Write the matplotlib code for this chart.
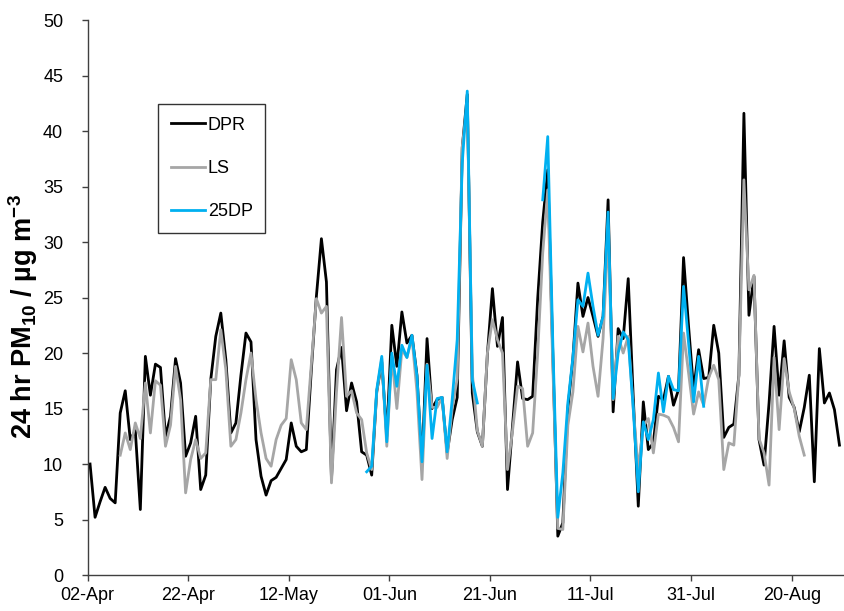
# PM10 time series: DPR / LS / 25DP
import numpy as np
import matplotlib
matplotlib.use("Agg")
import matplotlib.pyplot as plt

plt.rcParams["font.family"] = ["Liberation Sans", "DejaVu Sans"]
plt.rcParams["mathtext.fontset"] = "custom"
plt.rcParams["mathtext.rm"] = "Liberation Sans"
plt.rcParams["mathtext.bf"] = "Liberation Sans:bold"
tick_size = 13

# 数据 (日均值, 从 02-Apr 起每天一个)
dpr = [10.0, 5.2, 6.6, 7.9, 6.9, 6.5, 14.6, 16.6, 12.2, 13.0,
       5.9, 19.7, 16.2, 19.0, 18.7, 12.5, 14.3, 19.5, 17.3, 10.7,
       11.9, 14.3, 7.7, 9.0, 17.6, 21.5, 23.6, 19.4, 12.8, 13.7,
       18.0, 21.8, 21.0, 12.2, 8.9, 7.2, 8.5, 8.8, 9.6, 10.4,
       13.7, 11.6, 11.1, 11.3, 18.5, 25.1, 30.3, 26.4, 8.6, 18.5,
       20.5, 14.8, 17.3, 15.6, 11.1, 10.8, 9.0, 16.5, 19.2, 12.5,
       22.5, 18.8, 23.7, 20.9, 21.6, 18.0, 10.0, 21.3, 15.0, 15.8,
       16.0, 11.0, 14.0, 16.0, 38.5, 43.3, 16.4, 12.9, 11.6, 19.9,
       25.8, 20.6, 23.2, 7.7, 13.4, 19.2, 15.9, 15.8, 16.1, 24.9,
       31.8, 36.5, 20.0, 3.5, 4.7, 15.0, 19.5, 26.3, 23.3, 25.0,
       23.3, 21.5, 23.3, 33.8, 14.7, 22.2, 21.3, 26.7, 16.0, 6.2,
       15.6, 11.3, 11.9, 16.1, 15.8, 17.9, 15.3, 16.7, 28.6, 22.4,
       16.7, 20.3, 17.7, 17.8, 22.5, 20.0, 12.4, 13.3, 13.6, 18.0,
       41.6, 23.4, 26.9, 12.2, 9.9, 15.5, 22.4, 16.2, 21.1, 16.0,
       15.1, 12.9, 15.1, 18.0, 8.4, 20.4, 15.5, 16.4, 14.9, 11.7]

ls_start = 6
ls = [10.8, 12.8, 11.3, 13.7, 12.3, 17.3, 12.8, 17.5, 17.1, 11.6,
      13.5, 18.8, 15.8, 7.4, 10.4, 12.2, 10.5, 11.0, 17.6, 17.6,
      22.1, 18.5, 11.6, 12.2, 14.6, 17.6, 20.0, 15.8, 12.8, 10.5,
      9.8, 12.2, 13.5, 14.1, 19.4, 17.6, 13.7, 13.1, 19.0, 24.9,
      23.6, 24.2, 8.3, 16.5, 23.2, 16.1, 16.6, 14.6, 14.0, 11.0,
      9.5, 16.5, 19.5, 11.6, 19.7, 15.0, 20.3, 19.6, 21.4, 16.5,
      8.6, 19.0, 15.1, 15.1, 16.0, 10.5, 15.0, 17.7, 38.6, 42.5,
      18.2, 13.0, 11.6, 20.0, 23.0, 21.2, 20.0, 9.5, 13.0, 17.0,
      16.8, 11.6, 12.8, 20.0, 29.0, 34.7, 19.0, 4.2, 4.1, 13.5,
      16.5, 22.4, 20.1, 22.7, 18.8, 16.1, 21.3, 31.0, 15.8, 21.5,
      20.0, 21.5, 15.0, 9.5, 13.4, 14.1, 11.0, 14.5, 14.4, 14.2,
      13.3, 12.0, 21.8, 18.2, 14.5, 16.5, 15.3, 17.8, 18.9, 17.6,
      9.5, 11.9, 11.7, 18.0, 35.6, 25.7, 27.0, 12.3, 11.0, 8.1,
      19.6, 13.1, 19.5, 16.5, 15.0, 12.5, 10.8]

dp25_start = 55
dp25 = [9.3, 9.8, 16.7, 19.7, 12.0, 20.0, 17.0, 20.7, 19.6, 21.6,
        17.9, 10.2, 18.9, 12.3, 15.9, 16.0, 11.1, 15.8, 21.2, 37.1,
        43.6, 17.6, 15.5,
        None, None, None, None, None, None, None, None, None, None, None, None,
        33.8, 39.5, 21.0, 5.2, 9.2, 15.5, 19.6, 24.8, 24.2, 27.2,
        24.2, 21.6, 23.3, 32.7, 15.9, 20.0, 21.9, 21.2, 15.0, 7.5,
        13.8, 12.2, 14.0, 18.2, 14.7, 17.9, 16.7, 16.6, 26.0, 20.9,
        15.6, 19.7, 15.2]

tick_days = [0, 20, 40, 60, 80, 100, 120, 140]
tick_labels = ["02-Apr", "22-Apr", "12-May", "01-Jun", "21-Jun",
               "11-Jul", "31-Jul", "20-Aug"]

# 每天的点画在当天格子中间
x_dpr = np.arange(len(dpr)) + 0.5
x_ls = np.arange(len(ls)) + ls_start + 0.5
x_25 = np.arange(len(dp25)) + dp25_start + 0.5
y_25 = np.array(dp25, dtype=float)

fig = plt.figure(figsize=(8.44, 6.11), dpi=100)
ax = fig.add_axes([0.1037, 0.0589, 0.8963, 0.9083])

ax.plot(x_dpr, dpr, color="black", lw=2.0, label="DPR")
ax.plot(x_ls, ls, color="#A6A6A6", lw=2.0, label="LS")
ax.plot(x_25, y_25, color="#00B0F0", lw=2.0, label="25DP")

ax.set_xlim(0, 150.4)
ax.set_ylim(0, 50)
ax.set_yticks(range(0, 51, 5))
ax.set_xticks(tick_days, tick_labels)

for s in ["top", "right"]:
    ax.spines[s].set_visible(False)
for s in ["left", "bottom"]:
    ax.spines[s].set_linewidth(1.0)
    ax.spines[s].set_color("#404040")
ax.tick_params(axis="y", direction="out", length=4.5, width=1.0,
               color="#404040", pad=13, labelsize=tick_size)
ax.tick_params(axis="x", direction="out", length=4.5, width=1.0,
               color="#404040", pad=4, labelsize=tick_size)

ax.set_ylabel(r"24 hr PM$_\mathbf{10}$ / µg m$^\mathbf{-3}$",
              fontsize=19.5, fontweight="bold")
ax.yaxis.set_label_coords(-0.063, 0.465)

leg = ax.legend(loc="upper left", bbox_to_anchor=(158 / 844, 1 - 104 / 611),
                bbox_transform=fig.transFigure, fontsize=tick_size,
                frameon=True, fancybox=False, handlelength=1.9,
                handletextpad=0.15, labelspacing=1.45, borderpad=0.7,
                borderaxespad=0)
leg.get_frame().set_edgecolor("black")
leg.get_frame().set_linewidth(1.0)

plt.savefig("out.png", dpi=100)
